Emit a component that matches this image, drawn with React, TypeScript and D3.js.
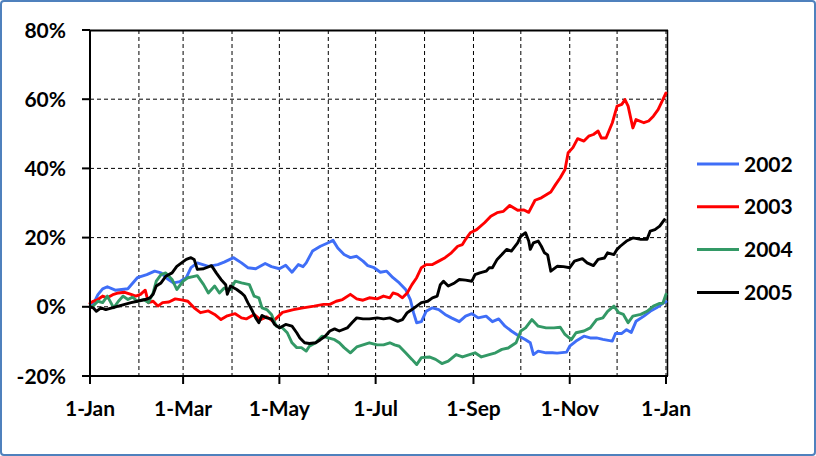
import React from 'react';
import * as d3 from 'd3';

const yTicks = [-20, 0, 20, 40, 60, 80];
const xTickDays = [0, 59, 120, 181, 243, 304, 365];
const xTickLabels = ['1-Jan', '1-Mar', '1-May', '1-Jul', '1-Sep', '1-Nov', '1-Jan'];
const monthDays = [31, 59, 90, 120, 151, 181, 212, 243, 273, 304, 334, 365];
const seriesNames = ['2002', '2003', '2004', '2005'];
const seriesColors = ['#3F6EF7', '#FF0000', '#339966', '#000000'];

// [day of year, return %]
const s2002: [number, number][] = [
  [0, 0], [2, 0.7], [5, 3.5], [8, 5.2], [11, 5.8], [16, 4.8], [20, 5], [24, 5.2], [30, 8.4], [36, 9.3],
  [41, 10.3], [45, 9.8], [49, 8.1], [53, 6.9], [57, 7.3], [61, 8.4], [64, 11.3], [68, 12.7], [75, 11.7],
  [81, 12.2], [85, 12.9], [91, 14.2], [96, 12.7], [100, 11.3], [105, 11], [111, 12.5], [115, 11.6],
  [120, 11], [124, 12], [128, 10], [132, 12.2], [135, 11.6], [137, 12.7], [141, 16.1], [146, 17.5],
  [151, 18.5], [154, 19.2], [157, 17], [161, 15.1], [165, 14.2], [169, 14.6], [173, 13.2], [176, 11.9],
  [180, 11.3], [184, 10], [188, 10.3], [192, 8.4], [196, 6.9], [200, 5], [203, 2.1], [205, -1.7],
  [207, -4.6], [210, -4.3], [213, -1.3], [217, -0.3], [221, -0.8], [225, -2.2], [229, -3.2], [234, -4.3],
  [238, -2.7], [242, -2], [246, -3.2], [251, -2.7], [255, -4.3], [259, -3.5], [263, -5.6], [267, -7],
  [272, -8.5], [276, -9.5], [279, -10.4], [281, -13.8], [284, -12.8], [289, -13.3], [293, -13.3],
  [296, -13.4], [302, -13.1], [304, -11.4], [308, -9.9], [313, -8.5], [317, -9], [321, -9], [325, -9.4],
  [331, -9.9], [333, -7.7], [337, -7.7], [340, -6.6], [343, -7.4], [346, -4.2], [351, -2.7], [355, -1.3],
  [359, -0.3], [363, 1], [365, 1.5],
];

const s2003: [number, number][] = [
  [0, 1], [2, 1.6], [5, 2.1], [8, 3.1], [11, 2.6], [15, 3.6], [18, 4], [22, 4.2], [26, 3.6], [29, 3.1],
  [32, 3.6], [35, 4.8], [37, 1.2], [40, 1.6], [43, 0.2], [46, 1.2], [50, 1.4], [54, 2.3], [58, 2],
  [62, 1.6], [66, -0.3], [70, -1.7], [75, -1.2], [79, -2.2], [83, -3.7], [87, -2.6], [92, -2], [96, -3.2],
  [99, -3.5], [104, -2.2], [108, -3.7], [112, -2.9], [116, -4.2], [119, -2.9], [122, -1.6], [129, -0.8],
  [135, -0.3], [142, 0.2], [148, 0.7], [152, 0.7], [156, 1.6], [160, 2.1], [165, 3.6], [169, 2.3],
  [173, 1.9], [177, 2.6], [182, 2.3], [186, 3.1], [190, 2.6], [192, 4], [195, 3.6], [198, 2.6], [201, 4],
  [204, 6.4], [207, 8.4], [210, 11.3], [213, 12.2], [217, 12.2], [221, 13.2], [225, 14.2], [229, 15.6],
  [233, 17.5], [236, 18], [238, 19.5], [241, 21.4], [245, 22.3], [250, 24.3], [254, 26.2], [258, 27.2],
  [262, 27.6], [266, 29.3], [271, 27.9], [275, 28], [278, 27.3], [282, 30.8], [286, 31.5], [292, 33.2],
  [295, 35.3], [298, 37.3], [301, 39.7], [303, 44.5], [306, 46], [309, 48.6], [313, 47.9], [316, 49.3],
  [319, 49.8], [322, 50.8], [324, 48.8], [327, 48.8], [331, 53.2], [334, 58], [337, 58.5], [339, 59.9],
  [341, 58], [344, 51.7], [346, 54.1], [351, 53.2], [354, 53.7], [357, 55.1], [360, 57], [363, 59.9],
  [365, 61.8],
];

const s2004: [number, number][] = [
  [0, 0], [2, 0.2], [5, 1.6], [8, 1.2], [11, 3.1], [15, -0.3], [18, 1.6], [21, 3.1], [24, 2.1], [27, 2.8],
  [30, 1.6], [34, 2.1], [37, 1.2], [40, 4], [42, 7.4], [45, 9.3], [48, 9.8], [52, 7.9], [55, 5], [59, 7.4],
  [62, 8.4], [66, 8.8], [68, 9], [72, 6.4], [75, 4], [79, 6], [82, 4], [85, 5.4], [89, 5], [92, 7.4],
  [96, 6.9], [101, 6.4], [104, 3.1], [107, 2.6], [109, -0.3], [112, -0.8], [115, -2.2], [118, -5.6],
  [122, -6.1], [125, -7.5], [128, -10.4], [131, -11.8], [134, -11.8], [137, -12.8], [139, -11.4],
  [143, -10.4], [147, -8.5], [151, -9], [155, -9.5], [158, -10.4], [161, -11.8], [165, -13.3],
  [169, -11.6], [173, -11], [177, -10.4], [182, -11], [186, -11], [190, -10.4], [193, -11], [196, -11.4],
  [200, -13.3], [204, -15.2], [207, -16.7], [210, -14.7], [215, -14.5], [219, -15.2], [223, -16.4],
  [227, -15.7], [232, -13.8], [236, -14.5], [240, -13.9], [244, -13.3], [248, -14.5], [253, -13.8],
  [257, -13.3], [261, -12.3], [265, -11.9], [270, -10.4], [273, -7], [276, -6.1], [280, -3.7], [284, -5.6],
  [289, -6.1], [294, -6.1], [298, -5.9], [301, -8], [305, -9.5], [308, -7.5], [313, -7], [317, -6.1],
  [321, -3.7], [325, -3.2], [328, -1.3], [332, 0.2], [335, -1.7], [338, -2.2], [341, -4.6], [344, -2.7],
  [349, -2.2], [353, -1.3], [357, 0.2], [361, 1], [363, 1], [365, 3.6],
];

const s2005: [number, number][] = [
  [0, 0], [2, -0.3], [4, -1.3], [7, -0.3], [10, -0.8], [14, -0.3], [18, 0.2], [22, 0.7], [26, 1.2],
  [30, 1.6], [35, 2.1], [38, 2.6], [40, 3.6], [42, 6], [45, 6.9], [48, 8.8], [52, 9.8], [55, 11.7],
  [58, 12.7], [61, 13.7], [64, 14.2], [66, 13.7], [68, 10.8], [72, 11], [77, 11.9], [80, 9.8], [83, 7.9],
  [86, 6.4], [87, 3.6], [89, 6], [93, 5], [96, 4], [98, 3.1], [100, 1.2], [103, -1.3], [105, -3.2],
  [107, -4.6], [109, -2.5], [112, -3.2], [115, -3.5], [117, -5.1], [120, -6.1], [124, -5.1], [128, -5.6],
  [131, -7.5], [133, -9], [136, -10.4], [139, -10.6], [143, -10.4], [146, -9.5], [149, -8.5], [152, -7],
  [155, -6.4], [158, -7], [163, -6.1], [166, -4.6], [169, -3.2], [173, -3.5], [177, -3.5], [182, -3.2],
  [186, -3.5], [190, -3.2], [195, -4.2], [198, -3.7], [201, -1.7], [204, -0.8], [207, 0.2], [210, 1.2],
  [214, 1.6], [217, 2.6], [220, 3.1], [222, 6.4], [224, 7.4], [227, 6], [231, 6.9], [234, 7.9], [238, 7.7],
  [242, 7.4], [244, 9.3], [247, 9.8], [251, 10.3], [253, 11.3], [255, 11.3], [258, 13.7], [261, 15.1],
  [264, 16.6], [267, 16.1], [271, 18.5], [273, 20.4], [276, 21.4], [278, 19], [279, 16.6], [281, 18.5],
  [284, 19], [286, 17.5], [288, 15.6], [290, 15], [292, 10.3], [296, 11.7], [300, 11.6], [304, 11.3],
  [307, 13.2], [312, 13.9], [315, 12.7], [319, 11.9], [322, 13.7], [326, 14.1], [328, 15.6], [332, 15.1],
  [334, 16.6], [336, 17.5], [340, 19], [344, 19.9], [349, 19.5], [353, 19.5], [355, 21.9], [358, 22.3],
  [361, 23.3], [364, 25.2],
];

const allSeries = [s2002, s2003, s2004, s2005];

const W = 816;
const H = 456;
const left = 90;
const right = 666;
const top = 30;
const bottom = 376;
const FONT = 'Lato, "Open Sans", sans-serif';
const FS = 21;

export default function App() {
  const x = d3.scaleLinear().domain([0, 365]).range([left, right]);
  const y = d3.scaleLinear().domain([-20, 80]).range([bottom, top]);
  const line = d3
    .line<[number, number]>()
    .x((d) => x(d[0]))
    .y((d) => y(d[1]));

  return (
    <div style={{ position: 'absolute', left: 0, top: 0 }}>
      <svg width={W} height={H} style={{ display: 'block' }}>
        <rect x={0} y={0} width={W} height={H} fill="#ffffff" />
        <rect x={1} y={1} width={W - 2} height={H - 2} rx={3} fill="#ffffff" stroke="#4F81BD" strokeWidth={2} />
        {/* horizontal gridlines */}
        {yTicks
          .filter((t) => t > -20 && t < 80)
          .map((t) => (
            <line key={'hg' + t} x1={left} x2={right} y1={y(t)} y2={y(t)} stroke="#000" strokeWidth={1} strokeDasharray="4,3" />
          ))}
        {/* vertical gridlines */}
        {monthDays.map((d) => (
          <line key={'vg' + d} x1={x(d)} x2={x(d)} y1={top} y2={bottom} stroke="#000" strokeWidth={1} strokeDasharray="4,3" />
        ))}
        {/* plot border top & right */}
        <line x1={left} x2={right + 2} y1={top + 0.5} y2={top + 0.5} stroke="#000" strokeWidth={2} />
        <line x1={right + 1.5} x2={right + 1.5} y1={top} y2={bottom} stroke="#000" strokeWidth={1.5} />
        {/* series */}
        {allSeries.map((s, i) => (
          <path key={'s' + i} d={line(s) || ''} fill="none" stroke={seriesColors[i]} strokeWidth={2.9} strokeLinejoin="round" strokeLinecap="round" />
        ))}
        {/* axes */}
        <line x1={left} x2={left} y1={top} y2={bottom + 8} stroke="#000" strokeWidth={2} />
        <line x1={left - 8} x2={right + 2} y1={bottom} y2={bottom} stroke="#000" strokeWidth={2} />
        {yTicks.map((t) => (
          <g key={'yt' + t}>
            <line x1={left - 8} x2={left} y1={y(t)} y2={y(t)} stroke="#000" strokeWidth={2} />
            <text x={66} y={y(t) + 7.5} textAnchor="end" fontFamily={FONT} fontWeight="bold" fontSize={FS} fill="#000">
              {t + '%'}
            </text>
          </g>
        ))}
        {xTickDays.map((d, i) => (
          <g key={'xt' + i}>
            <line x1={x(d)} x2={x(d)} y1={bottom} y2={bottom + 8} stroke="#000" strokeWidth={2} />
            <text x={x(d)} y={416} textAnchor="middle" fontFamily={FONT} fontWeight="bold" fontSize={FS} fill="#000">
              {xTickLabels[i]}
            </text>
          </g>
        ))}
        {/* legend */}
        {seriesNames.map((n, i) => {
          const ly = 164 + i * 42.8;
          return (
            <g key={'lg' + n}>
              <line x1={697} x2={739} y1={ly} y2={ly} stroke={seriesColors[i]} strokeWidth={3} />
              <text x={744} y={ly + 7.5} fontFamily={FONT} fontWeight="bold" fontSize={FS} fill="#000">
                {n}
              </text>
            </g>
          );
        })}
      </svg>
    </div>
  );
}
